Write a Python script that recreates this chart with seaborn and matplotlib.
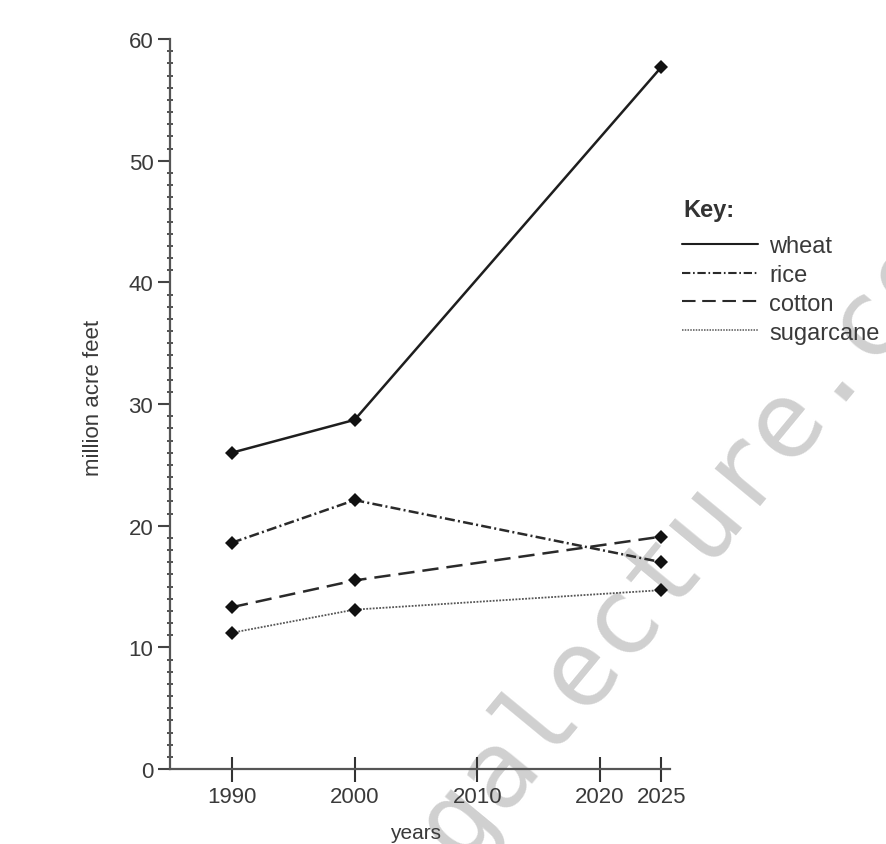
import matplotlib
matplotlib.use("Agg")
import matplotlib.pyplot as plt
from matplotlib.lines import Line2D
from matplotlib.ticker import MultipleLocator
import seaborn as sns
import pandas as pd

# ---- data ----
years = [1990, 2000, 2025]
wheat = [26.0, 28.7, 57.7]
rice = [18.6, 22.1, 17.0]
cotton = [13.3, 15.5, 19.1]
sugarcane = [11.2, 13.1, 14.7]
crops = ["wheat", "rice", "cotton", "sugarcane"]
xticks = [1990, 2000, 2010, 2020, 2025]
yticks = [0, 10, 20, 30, 40, 50, 60]

series = {"wheat": wheat, "rice": rice, "cotton": cotton, "sugarcane": sugarcane}
df = pd.DataFrame(
    [(c, y, v) for c in crops for y, v in zip(years, series[c])],
    columns=["crop", "year", "value"],
)

sns.set_style("ticks")
plt.rcParams["font.family"] = ["Liberation Sans", "DejaVu Sans"]

styles = {
    "wheat": dict(lw=1.8, ls="-", color="#1e1e1e"),
    "rice": dict(lw=1.8, ls=(0, (4, 1.3, 0.8, 1.3)), color="#2a2a2a"),
    "cotton": dict(lw=1.8, ls=(0, (6.5, 3.2)), color="#2a2a2a"),
    "sugarcane": dict(lw=1.3, ls=(0, (1, 0.8)), color="#555555"),
}

fig = plt.figure(figsize=(8.87, 8.45), dpi=100)

# watermark (behind everything)
fig.text(172 / 887, 1 - 1208 / 845, "ieltsmegalecture.com", fontsize=77,
         family="DejaVu Sans Mono", color="#d0d0d0",
         rotation=50.5, rotation_mode="anchor", ha="left", va="baseline",
         zorder=-5)

ax = fig.add_axes([170 / 887, 1 - 770 / 845, 500 / 887, 730 / 845])
ax.patch.set_alpha(0)

for c in crops:
    s = styles[c]
    sns.lineplot(data=df[df["crop"] == c], x="year", y="value", ax=ax,
                 color=s["color"], linewidth=s["lw"], linestyle=s["ls"],
                 marker="D", markersize=7, markeredgewidth=0,
                 markerfacecolor="#111111", legend=False, errorbar=None)

ax.set_xlim(1984.95, 2025.7)
ax.set_ylim(0, 60)
ax.set_xticks(xticks)
ax.set_yticks(yticks)
ax.yaxis.set_minor_locator(MultipleLocator(1))

for sp in ["top", "right"]:
    ax.spines[sp].set_visible(False)
for sp in ["left", "bottom"]:
    ax.spines[sp].set_color("#555555")
    ax.spines[sp].set_linewidth(1.6)

ax.tick_params(axis="x", which="major", direction="inout", length=18, width=1.5,
               color="#333333", labelsize=16, labelcolor="#3a3a3a", pad=3)
ax.tick_params(axis="y", which="major", direction="out", length=9, width=1.5,
               color="#444444", labelsize=16, labelcolor="#3a3a3a", pad=3)
ax.tick_params(axis="y", which="minor", direction="inout", length=5, width=1.3,
               color="#444444")

ax.set_xlabel("years", fontsize=15, color="#3a3a3a")
ax.xaxis.set_label_coords((416 - 170) / 500, -(824 - 770) / 730)
ax.xaxis.label.set_va("top")
ax.set_ylabel("million acre feet", fontsize=16, color="#3a3a3a")
ax.yaxis.set_label_coords((104 - 170) / 500, (770 - 398) / 730)

# key
fig.text(683 / 887, 1 - 217 / 845, "Key:", fontsize=17, fontweight="bold",
         color="#333333", ha="left", va="baseline")
handles = [Line2D([], [], color=styles[c]["color"],
                  linewidth=1.5 if c != "sugarcane" else 1.1,
                  linestyle=styles[c]["ls"]) for c in crops]
leg = fig.legend(handles, crops, loc="upper left",
                 bbox_to_anchor=(682 / 887, 1 - 236 / 845),
                 frameon=False, fontsize=17, handlelength=3.2, handletextpad=0.5,
                 labelspacing=0.29, borderpad=0, borderaxespad=0)
for t in leg.get_texts():
    t.set_color("#3a3a3a")

fig.savefig("out.png", dpi=100)
